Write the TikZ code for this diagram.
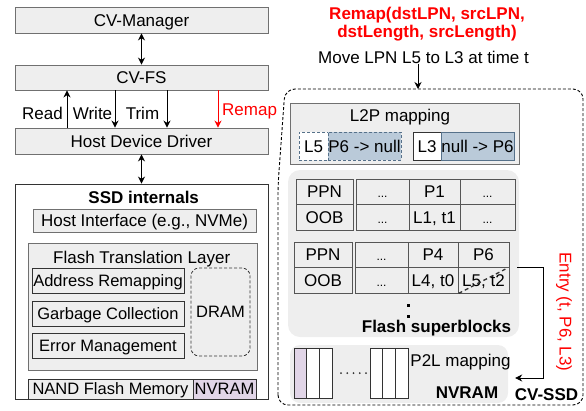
\documentclass[tikz,border=0pt]{standalone}
\usepackage{fontspec}
\setmainfont{Liberation Sans}
\usetikzlibrary{arrows.meta,calc}
\definecolor{boxgray}{HTML}{EEEEEE}
\definecolor{edgegray}{HTML}{707070}
\definecolor{darkedge}{HTML}{333333}
\definecolor{celledge}{HTML}{555555}
\definecolor{bluefill}{HTML}{BACAD9}
\definecolor{blueedge}{HTML}{56718A}
\definecolor{purplefill}{HTML}{E1D5E7}
\definecolor{remapred}{HTML}{FF0000}
\begin{document}
\begin{tikzpicture}[x=1pt,y=-1pt,
  font=\fontsize{17}{19}\selectfont,
  >={Stealth[length=7pt,width=7pt]},
  layer/.style={draw=edgegray, fill=boxgray, line width=0.9pt, inner sep=0pt,
    minimum width=253pt, minimum height=26pt, text height=12.2pt, text depth=0pt},
  inbox/.style={draw=darkedge, fill=boxgray, line width=0.9pt, inner sep=0pt,
    text height=12.2pt, text depth=0pt},
  small/.style={font=\fontsize{16.5}{18}\selectfont, text height=11.8pt},
  cell/.style={draw=celledge, line width=0.8pt, inner sep=0pt, minimum height=25.5pt,
    text height=12.2pt, text depth=0pt},
  slot/.style={draw=darkedge, fill=white, line width=0.8pt, inner sep=0pt,
    minimum width=12.67pt, minimum height=50pt},
  lbl/.style={inner sep=0pt},
  bold/.style={font=\fontsize{17}{19}\selectfont\bfseries},
  conn/.style={->, line width=0.9pt},
  dconn/.style={<->, line width=0.9pt},
  dotsf/.style={font=\fontsize{12}{14}\selectfont}
]
\useasboundingbox (0,0) rectangle (586,410);

% ---------------- left stack ----------------
\node[layer] (mgr) at (141.5,20) {CV-Manager};
\node[layer, minimum height=25pt] (fs) at (141.5,77.5) {CV-FS};
\node[layer] (hdd) at (141.5,141) {Host Device Driver};
\node[draw=darkedge, fill=white, line width=0.9pt, inner sep=0pt,
      minimum width=253pt, minimum height=215pt] (ssd) at (141.5,291.5) {};

\draw[dconn] (mgr) -- (fs);
\draw[dconn] (hdd) -- (ssd);

\coordinate (xr) at (67,0);
\coordinate (xw) at (115,0);
\coordinate (xt) at (167,0);
\coordinate (xm) at (218,0);
\draw[conn] (hdd.north -| xr) -- (fs.south -| xr);
\draw[conn] (fs.south -| xw) -- (hdd.north -| xw);
\draw[conn] (fs.south -| xt) -- (hdd.north -| xt);
\draw[conn, remapred] (fs.south -| xm) -- (hdd.north -| xm);

\node[lbl, anchor=base east] (lread) at (63,119) {Read};
\node[lbl, anchor=base] (lwrite) at (92.5,119) {Write};
\node[lbl, anchor=base] (ltrim) at (142.5,119) {Trim};
\node[lbl, anchor=base west, text=remapred] (lremap) at (222,115) {Remap};

% SSD internals
\node[lbl, anchor=base, bold] (ssdt) at (143.7,203.3) {SSD internals};
\node[inbox, minimum width=223pt, minimum height=23pt, draw=edgegray] (hif) at (144.5,220.5) {Host Interface (e.g., NVMe)};
\node[inbox, minimum width=229pt, minimum height=127pt, draw=edgegray] (ftl) at (142.5,306.5) {};
\node[lbl, anchor=base] (ftlt) at (141.7,263.3) {Flash Translation Layer};
\node[inbox, small, minimum width=152pt, minimum height=25pt] (addr) at (108,280.5) {Address Remapping};
\node[inbox, small, minimum width=152pt, minimum height=25pt] (gc) at (108,313.5) {Garbage Collection};
\node[inbox, small, minimum width=152pt, minimum height=25pt] (err) at (108,345.5) {Error Management};
\node[draw=darkedge, line width=0.8pt, dash pattern=on 3pt off 2pt, rounded corners=8pt,
      inner sep=0pt, minimum width=59pt, minimum height=88pt, small,
      text depth=0pt] (dram) at (220.5,312) {DRAM};
\node[inbox, small, minimum width=165pt, minimum height=20pt] (nand) at (110.5,389) {NAND Flash Memory};
\node[inbox, small, fill=purplefill, minimum width=63pt, minimum height=20pt] (nvr) at (224.5,389) {NVRAM};

% ---------------- right side ----------------
\node[lbl, anchor=base, text=remapred, bold] (rcall1) at (427,19.3) {Remap(dstLPN, srcLPN,};
\node[lbl, anchor=base, text=remapred, bold] (rcall2) at (427,37.7) {dstLength, srcLength)};
\node[lbl, anchor=base] (mv) at (423.5,63.3) {Move LPN L5 to L3 at time t};

\draw[line width=0.9pt, dash pattern=on 3pt off 2pt, rounded corners=10pt]
  (278,405) -- (278,185) -- (285,89) -- (583,89) -- (583,405) -- cycle;
\coordinate (ctop) at (418,89);
\draw[conn] (mv.south -| ctop) -- (ctop);

% L2P mapping
\node[inbox, draw=edgegray, minimum width=229pt, minimum height=61pt] (l2p) at (404.5,133.5) {};
\node[lbl, anchor=base] (l2pt) at (400,121.7) {L2P mapping};
\node[draw=blueedge, fill=white, line width=0.8pt, dash pattern=on 3pt off 2pt, inner sep=0pt,
      minimum width=29pt, minimum height=28pt, text height=12.2pt, text depth=0pt] (l5) at (313.5,146) {L5};
\node[draw=blueedge, fill=bluefill, line width=0.8pt, dash pattern=on 3pt off 2pt, inner sep=0pt,
      minimum width=73pt, minimum height=28pt, text height=12.2pt, text depth=0pt] (p6n) at (364.5,146) {P6 -> null};
\node[draw=darkedge, fill=white, line width=0.8pt, inner sep=0pt,
      minimum width=28pt, minimum height=28pt, text height=12.2pt, text depth=0pt] (l3) at (427,146) {L3};
\node[draw=blueedge, fill=bluefill, line width=0.8pt, inner sep=0pt,
      minimum width=73pt, minimum height=28pt, text height=12.2pt, text depth=0pt] (np6) at (477.5,146) {null -> P6};

% Flash superblocks
\node[fill=boxgray, rounded corners=12pt, inner sep=0pt, minimum width=231pt, minimum height=167pt] (fsb) at (403.5,253.5) {};

\node[cell, minimum width=57pt] (a1) at (324.5,191.75) {PPN};
\node[cell, minimum width=53pt, dotsf] (a2) at (382.5,191.75) {...};
\node[cell, minimum width=51pt] (a3) at (434.5,191.75) {P1};
\node[cell, minimum width=55pt, dotsf] (a4) at (487.5,191.75) {...};
\node[cell, minimum width=57pt] (b1) at (324.5,217.25) {OOB};
\node[cell, minimum width=53pt, dotsf] (b2) at (382.5,217.25) {...};
\node[cell, minimum width=51pt] (b3) at (434.5,217.25) {L1, t1};
\node[cell, minimum width=55pt, dotsf] (b4) at (487.5,217.25) {...};

\node[cell, minimum width=58pt] (c1) at (323,254.75) {PPN};
\node[cell, minimum width=53pt, dotsf] (c2) at (381.5,254.75) {...};
\node[cell, minimum width=50pt] (c3) at (433,254.75) {P4};
\node[cell, minimum width=51pt] (c4) at (483.5,254.75) {P6};
\node[cell, minimum width=58pt] (d1) at (323,280.25) {OOB};
\node[cell, minimum width=53pt, dotsf] (d2) at (381.5,280.25) {...};
\node[cell, minimum width=50pt] (d3) at (433,280.25) {L4, t0};
\node[cell, minimum width=51pt] (d4) at (483.5,280.25) {L5, t2};
\draw[darkedge, line width=1.3pt, dash pattern=on 4pt off 3pt]
  ($(d4.south west)+(1,0)$) -- ($(d4.north east)+(-4,2)$);

\fill (406.5,303.5) rectangle (409.5,306.5);
\fill (406.5,314.5) rectangle (409.5,317.5);
\node[lbl, anchor=base, bold] (fsbt) at (436.5,332.3) {Flash superblocks};

% NVRAM region
\node[fill=boxgray, rounded corners=10pt, inner sep=0pt, minimum width=218pt, minimum height=58pt] (nvreg) at (399,374) {};
\node[slot, fill=purplefill] (s1) at (300.33,373) {};
\node[slot] (s2) at (313,373) {};
\node[slot] (s3) at (325.67,373) {};
\node[slot] (s4) at (376.33,373) {};
\node[slot] (s5) at (389,373) {};
\node[slot] (s6) at (401.67,373) {};
\foreach \i in {0,...,4} \fill[darkedge] (341+6.25*\i,373) circle (1pt);
\node[lbl, anchor=base] (p2l) at (460.5,366.7) {P2L mapping};
\node[lbl, anchor=base, bold] (nvt) at (467,398.3) {NVRAM};
\node[lbl, anchor=base, bold] (cvssd) at (546.5,400.5) {CV-SSD};

% entry arrow
\coordinate (e1) at (543,378);
\draw[conn] ($(c4.south east)+(8,0)$) -| (e1) -- ($(nvreg.east)+(7,4)$);
\node[lbl, rotate=-90, text=remapred] (entry) at (564,312) {Entry (t, P6, L3)};

\end{tikzpicture}
\end{document}
